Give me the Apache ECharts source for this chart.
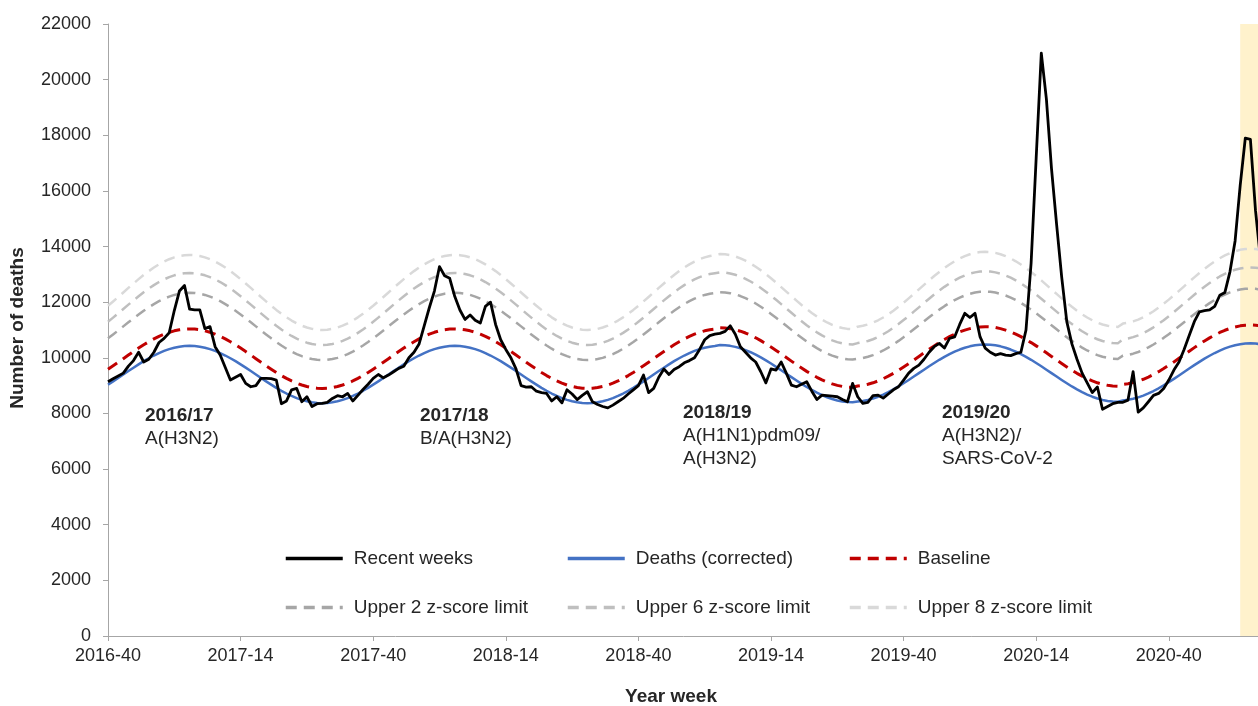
<!DOCTYPE html>
<html>
<head>
<meta charset="utf-8">
<script src="https://cdn.jsdelivr.net/npm/echarts@6/dist/echarts.min.js"></script>
<style>
html,body{margin:0;padding:0;background:#ffffff;}
#chart{width:1258px;height:706px;}
</style>
</head>
<body>
<div id="chart"></div>
<script>
// ---------- DATA ----------
// [year, first week, last week] ranges used for the category (year-week) labels
const weekRanges = [[2016,40,52],[2017,1,52],[2018,1,52],[2019,1,52],[2020,1,53],[2021,1,6]];

const categories = [];
weekRanges.forEach(function (r) {
  for (let w = r[1]; w <= r[2]; w++) {
    categories.push(r[0] + '-' + (w < 10 ? '0' + w : '' + w));
  }
});

const seriesNames = ['Recent weeks','Deaths (corrected)','Baseline','Upper 2 z-score limit','Upper 6 z-score limit','Upper 8 z-score limit'];

const recentWeeks = [
9140,9250,9350,9450,9700,9900,10200,9850,9950,10200,10550,10700,10900,11700,12400,12600,
11750,11720,11720,11050,11120,10400,10100,9650,9200,9300,9400,9080,8960,9000,9260,9260,
9250,9200,8350,8450,8850,8900,8420,8600,8250,8350,8360,8400,8540,8640,8600,8720,
8450,8650,8860,9050,9260,9400,9280,9380,9500,9620,9700,10000,10200,10500,11150,11800,
12400,13280,12950,12860,12200,11720,11380,11540,11350,11250,11850,12000,11200,10650,10300,10000,
9600,9000,8950,8960,8800,8750,8720,8450,8600,8380,8850,8700,8500,8650,8780,8420,
8320,8250,8200,8300,8420,8540,8700,8850,9000,9380,8750,8900,9300,9600,9400,9580,
9680,9820,9900,10000,10300,10650,10800,10850,10880,10950,11150,10850,10400,10200,10000,9850,
9500,9100,9600,9560,9850,9450,9020,8960,9050,9140,8800,8500,8660,8640,8620,8600,
8500,8420,9080,8600,8360,8400,8640,8660,8550,8700,8850,8960,9200,9450,9620,9740,
9950,10200,10400,10520,10350,10700,10750,11200,11600,11450,11600,10750,10350,10200,10100,10150,
10100,10080,10150,10200,11000,13400,17200,20950,19300,16800,14800,12900,11300,10500,9950,9450,
9100,8750,8950,8150,8250,8350,8400,8400,8480,9500,8050,8200,8420,8650,8720,8900,
9200,9560,9850,10300,10800,11300,11650,11700,11720,11850,12250,12350,13100,14200,16200,17900,
17850,15300,13500
];

const deathsCorrected = [
9035,9154,9276,9400,9524,9646,9765,9879,9985,10083,10171,10248,10312,10363,10400,10422,
10430,10422,10400,10363,10312,10248,10171,10083,9985,9879,9765,9646,9524,9400,9276,9154,9035,8921,8815,8717,8629,8552,8488,8437,8400,8378,8370,
8378,8400,8437,8488,8552,8629,8717,8815,8921,9035,9154,9276,9400,9524,9646,9765,9879,9985,10083,10171,10248,10312,10363,10400,10422,
10430,10422,10400,10363,10312,10248,10171,10083,9985,9879,9765,9646,9524,9400,9276,9154,9035,8921,8815,8717,8629,8552,8488,8437,8400,8378,8370,
8378,8400,8437,8488,8552,8629,8717,8815,8921,9035,9154,9276,9400,9524,9646,9765,9879,9985,10083,10171,10248,10312,10363,10400,10422,
10460,10452,10430,10393,10342,10278,10201,10113,10015,9909,9795,9676,9554,9430,9306,9184,9065,8951,8845,8747,8659,8582,8518,8467,8430,8408,8400,
8428,8450,8487,8538,8602,8679,8767,8865,8971,9085,9204,9326,9450,9574,9696,9815,9929,10035,10133,10221,10298,10362,10413,10450,10472,
10480,10472,10450,10413,10362,10298,10221,10133,10035,9929,9815,9696,9574,9450,9326,9204,9085,8971,8865,8767,8679,8602,8538,8487,8450,8428,8420,
8468,8490,8527,8578,8642,8719,8807,8905,9011,9125,9244,9366,9490,9614,9736,9855,9969,10075,10173,10261,10338,10402,10453,10490,10512,
10520,10512,10490,10453
];

const baseline = [
9591,9714,9841,9970,10099,10226,10349,10467,10578,10680,10771,10851,10917,10970,11009,11032,
11040,11032,11009,10970,10917,10851,10771,10680,10578,10467,10349,10226,10099,9970,9841,9714,9591,9473,9362,9260,9168,9089,9022,8970,8931,8908,8900,
8908,8931,8970,9022,9089,9168,9260,9362,9473,9591,9714,9841,9970,10099,10226,10349,10467,10578,10680,10771,10851,10917,10970,11009,11032,
11040,11032,11009,10970,10917,10851,10771,10680,10578,10467,10349,10226,10099,9970,9841,9714,9591,9473,9362,9260,9168,9089,9022,8970,8931,8908,8900,
8908,8931,8970,9022,9089,9168,9260,9362,9473,9591,9714,9841,9970,10099,10226,10349,10467,10578,10680,10771,10851,10917,10970,11009,11032,
11080,11072,11049,11010,10957,10891,10811,10720,10618,10507,10389,10266,10139,10010,9881,9754,9631,9513,9402,9300,9208,9129,9062,9010,8971,8948,8940,
8988,9011,9050,9102,9169,9248,9340,9442,9553,9671,9794,9921,10050,10179,10306,10429,10547,10658,10760,10851,10931,10997,11050,11089,11112,
11120,11112,11089,11050,10997,10931,10851,10760,10658,10547,10429,10306,10179,10050,9921,9794,9671,9553,9442,9340,9248,9169,9102,9050,9011,8988,8980,
9048,9071,9110,9162,9229,9308,9400,9502,9613,9731,9854,9981,10110,10239,10366,10489,10607,10718,10820,10911,10991,11057,11110,11149,11172,
11180,11172,11149,11110
];

const upper2 = [
10701,10840,10984,11130,11276,11420,11559,11692,11817,11932,12036,12126,12201,12261,12305,12331,
12340,12331,12305,12261,12201,12126,12036,11932,11817,11692,11559,11420,11276,11130,10984,10840,10701,10568,10443,10328,10224,10134,10059,9999,9955,9929,9920,
9929,9955,9999,10059,10134,10224,10328,10443,10568,10701,10840,10984,11130,11276,11420,11559,11692,11817,11932,12036,12126,12201,12261,12305,12331,
12340,12331,12305,12261,12201,12126,12036,11932,11817,11692,11559,11420,11276,11130,10984,10840,10701,10568,10443,10328,10224,10134,10059,9999,9955,9929,9920,
9929,9955,9999,10059,10134,10224,10328,10443,10568,10701,10840,10984,11130,11276,11420,11559,11692,11817,11932,12036,12126,12201,12261,12305,12331,
12360,12351,12325,12281,12221,12146,12056,11952,11837,11712,11579,11440,11296,11150,11004,10860,10721,10588,10463,10348,10244,10154,10079,10019,9975,9949,9940,
9969,9995,10039,10099,10174,10264,10368,10483,10608,10741,10880,11024,11170,11316,11460,11599,11732,11857,11972,12076,12166,12241,12301,12345,12371,
12380,12371,12345,12301,12241,12166,12076,11972,11857,11732,11599,11460,11316,11170,11024,10880,10741,10608,10483,10368,10264,10174,10099,10039,9995,9969,9960,
10079,10105,10149,10209,10284,10374,10478,10593,10718,10851,10990,11134,11280,11426,11570,11709,11842,11967,12082,12186,12276,12351,12411,12455,12481,
12490,12481,12455,12411
];

const upper6 = [
11296,11445,11599,11755,11911,12065,12214,12357,12491,12614,12724,12821,12902,12966,13012,13041,
13050,13041,13012,12966,12902,12821,12724,12614,12491,12357,12214,12065,11911,11755,11599,11445,11296,11153,11019,10896,10786,10689,10608,10544,10497,10469,10460,
10469,10497,10544,10608,10689,10786,10896,11019,11153,11296,11445,11599,11755,11911,12065,12214,12357,12491,12614,12724,12821,12902,12966,13012,13041,
13050,13041,13012,12966,12902,12821,12724,12614,12491,12357,12214,12065,11911,11755,11599,11445,11296,11153,11019,10896,10786,10689,10608,10544,10497,10469,10460,
10469,10497,10544,10608,10689,10786,10896,11019,11153,11296,11445,11599,11755,11911,12065,12214,12357,12491,12614,12724,12821,12902,12966,13012,13041,
13070,13061,13032,12986,12922,12841,12744,12634,12511,12377,12234,12085,11931,11775,11619,11465,11316,11173,11039,10916,10806,10709,10628,10564,10517,10489,10480,
10529,10557,10604,10668,10749,10846,10956,11079,11213,11356,11505,11659,11815,11971,12125,12274,12417,12551,12674,12784,12881,12962,13026,13072,13101,
13110,13101,13072,13026,12962,12881,12784,12674,12551,12417,12274,12125,11971,11815,11659,11505,11356,11213,11079,10956,10846,10749,10668,10604,10557,10529,10520,
10669,10697,10744,10808,10889,10986,11096,11219,11353,11496,11645,11799,11955,12111,12265,12414,12557,12691,12814,12924,13021,13102,13166,13212,13241,
13250,13241,13212,13166
];

const upper8 = [
11871,12027,12187,12350,12513,12673,12829,12977,13117,13245,13360,13461,13545,13612,13661,13690,
13700,13690,13661,13612,13545,13461,13360,13245,13117,12977,12829,12673,12513,12350,12187,12027,11871,11723,11583,11455,11340,11240,11155,11089,11040,11010,11000,
11010,11040,11089,11155,11240,11340,11455,11583,11723,11871,12027,12187,12350,12513,12673,12829,12977,13117,13245,13360,13461,13545,13612,13661,13690,
13700,13690,13661,13612,13545,13461,13360,13245,13117,12977,12829,12673,12513,12350,12187,12027,11871,11723,11583,11455,11340,11240,11155,11089,11040,11010,11000,
11010,11040,11089,11155,11240,11340,11455,11583,11723,11871,12027,12187,12350,12513,12673,12829,12977,13117,13245,13360,13461,13545,13612,13661,13690,
13730,13720,13691,13642,13575,13491,13390,13275,13147,13007,12859,12703,12543,12380,12217,12057,11901,11753,11613,11485,11370,11270,11185,11119,11070,11040,11030,
11120,11150,11199,11265,11350,11450,11565,11693,11833,11981,12137,12297,12460,12623,12783,12939,13087,13227,13355,13470,13571,13655,13722,13771,13800,
13810,13800,13771,13722,13655,13571,13470,13355,13227,13087,12939,12783,12623,12460,12297,12137,11981,11833,11693,11565,11450,11350,11265,11199,11150,11120,11110,
11230,11260,11309,11375,11460,11560,11675,11803,11943,12091,12247,12407,12570,12733,12893,13049,13197,13337,13465,13580,13681,13765,13832,13881,13910,
13920,13910,13881,13832
];

const shadeFrom = '2021-01';
const yTicks = {min: 0, max: 22000, step: 2000};

const seasonNotes = [
  {season: '2016/17', lines: ['A(H3N2)'], x: 145, y: 416},
  {season: '2017/18', lines: ['B/A(H3N2)'], x: 420, y: 416},
  {season: '2018/19', lines: ['A(H1N1)pdm09/', 'A(H3N2)'], x: 683, y: 413},
  {season: '2019/20', lines: ['A(H3N2)/', 'SARS-CoV-2'], x: 942, y: 413}
];

// ---------- CHART ----------
const FONT = '"Liberation Sans", Arial, Helvetica, sans-serif';
const TXT = '#262626';
const AXIS = '#a6a6a6';
const FS = 18;
const FS2 = 19;

const chart = echarts.init(document.getElementById('chart'), null, {renderer: 'canvas'});

const graphics = [];
seasonNotes.forEach(function (n) {
  graphics.push({type: 'text', x: n.x, y: n.y, silent: true,
    style: {text: n.season, font: 'bold ' + FS2 + 'px ' + FONT, fill: TXT, verticalAlign: 'middle'}});
  n.lines.forEach(function (t, k) {
    graphics.push({type: 'text', x: n.x, y: n.y + 23 * (k + 1), silent: true,
      style: {text: t, font: FS2 + 'px ' + FONT, fill: TXT, verticalAlign: 'middle'}});
  });
});
graphics.push({type: 'text', x: 671, y: 697, silent: true,
  style: {text: 'Year week', font: 'bold ' + FS2 + 'px ' + FONT, fill: TXT, align: 'center', verticalAlign: 'middle'}});
graphics.push({type: 'text', x: 18, y: 328, rotation: Math.PI / 2, silent: true,
  style: {text: 'Number of deaths', font: 'bold ' + FS2 + 'px ' + FONT, fill: TXT, align: 'center', verticalAlign: 'middle'}});

const legendPos = [
  {left: 284, top: 549}, {left: 566, top: 549}, {left: 848, top: 549},
  {left: 284, top: 598}, {left: 566, top: 598}, {left: 848, top: 598}
];
const legends = seriesNames.map(function (name, k) {
  return {
    show: true, left: legendPos[k].left, top: legendPos[k].top, padding: 0,
    itemWidth: 57, itemHeight: 14, data: [name], selectedMode: false,
    itemStyle: {opacity: 0, borderWidth: 0},
    lineStyle: {width: 3.5},
    textStyle: {fontFamily: FONT, fontSize: FS2, color: TXT, padding: [0, 0, 0, 6]}
  };
});

function lineSeries(name, data, color, width, dashed, z) {
  return {
    name: name, type: 'line', data: data, symbol: 'none', showSymbol: false,
    smooth: false, z: z, silent: true,
    lineStyle: {color: color, width: width, type: dashed ? [11, 7] : 'solid', cap: 'butt', join: 'round'},
    itemStyle: {color: color}
  };
}

const s8 = lineSeries(seriesNames[5], upper8, '#d9d9d9', 2.5, true, 2);
s8.markArea = {
  silent: true,
  itemStyle: {color: '#fff2cc'},
  data: [[{xAxis: shadeFrom}, {xAxis: categories[categories.length - 1]}]]
};

const option = {
  animation: false,
  backgroundColor: '#ffffff',
  textStyle: {fontFamily: FONT},
  grid: {left: 108, top: 24, width: (categories.length - 1) * 5.1, height: 612, containLabel: false, outerBoundsMode: 'none'},
  legend: legends,
  graphic: graphics,
  xAxis: {
    type: 'category', data: categories, boundaryGap: false,
    axisLine: {show: true, lineStyle: {color: AXIS, width: 1}},
    axisTick: {show: true, interval: 25, length: 5, lineStyle: {color: AXIS}},
    axisLabel: {interval: 25, margin: 11, fontSize: FS, fontFamily: FONT, color: TXT},
    splitLine: {show: false}
  },
  yAxis: {
    type: 'value', min: yTicks.min, max: yTicks.max, interval: yTicks.step,
    axisLine: {show: true, lineStyle: {color: AXIS, width: 1}},
    axisTick: {show: true, length: 5, lineStyle: {color: AXIS}},
    axisLabel: {margin: 17, fontSize: FS, fontFamily: FONT, color: TXT,
      formatter: function (v) { return String(v); }},
    splitLine: {show: false}
  },
  series: [
    s8,
    lineSeries(seriesNames[4], upper6, '#bfbfbf', 2.5, true, 3),
    lineSeries(seriesNames[3], upper2, '#a6a6a6', 2.5, true, 4),
    lineSeries(seriesNames[2], baseline, '#c00000', 3, true, 5),
    lineSeries(seriesNames[1], deathsCorrected, '#4472c4', 2.5, false, 6),
    lineSeries(seriesNames[0], recentWeeks, '#000000', 2.8, false, 7)
  ]
};
chart.setOption(option);
</script>
</body>
</html>
